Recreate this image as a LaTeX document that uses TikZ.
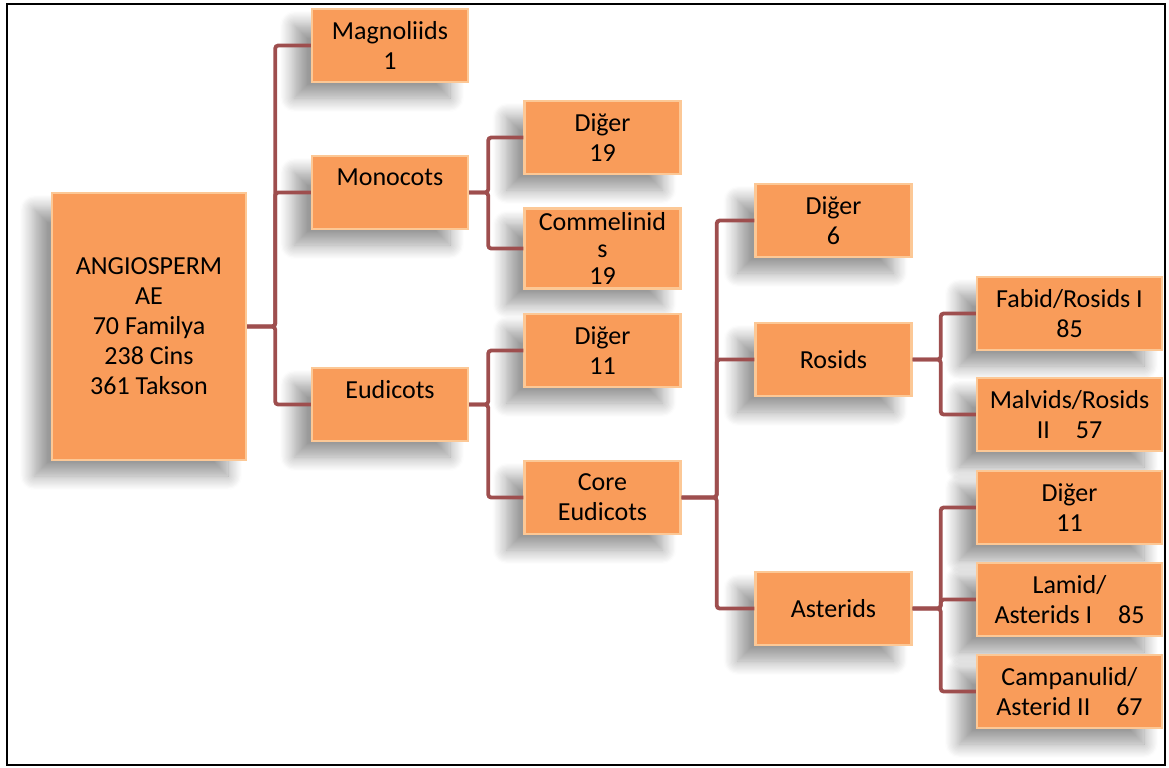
\documentclass[tikz,border=0pt]{standalone}
\usepackage{fontspec}
\setmainfont{Carlito}
\usetikzlibrary{shadows.blur}
\definecolor{boxfill}{RGB}{249,156,90}
\definecolor{boxrim}{RGB}{252,200,150}
\definecolor{linkred}{RGB}{158,78,78}
\begin{document}
\begin{tikzpicture}[x=0.5pt, y=-0.5pt,
    taxon/.style={rectangle, fill=boxfill, draw=boxrim, line width=1.2pt,
        minimum width=78pt, minimum height=36.5pt, inner sep=2pt, align=center,
        font=\fontsize{13}{15}\selectfont,
        blur shadow={shadow xshift=-9pt, shadow yshift=-8pt, shadow blur radius=7pt, shadow blur steps=12, shadow opacity=40}},
    wide/.style={taxon, minimum width=92.5pt},
    link/.style={linkred, line width=1.9pt, rounded corners=1.5pt}]
    % frame
    \useasboundingbox (0,0) rectangle (1169,767);
    \draw[black, line width=1.3pt] (7,4) rectangle (1165,765);
    % taxa
    \node[taxon, minimum width=97pt, minimum height=133.5pt] (root) at (149,326.5)
        {ANGIOSPERM\\AE\\70 Familya\\238 Cins\\361 Takson};
    \node[taxon] (mag) at (390,45.5) {Magnoliids\\1};
    \node[taxon] (mono) at (390,192.5) {Monocots\\~};
    \node[taxon] (eudi) at (390,404.5) {Eudicots\\~};
    \node[taxon] (mdig) at (602.5,137.5) {Diğer\\19};
    \node[taxon, font=\fontsize{13}{13.5}\selectfont] (comm) at (602.5,248.5) {Commelinid\\s\\19};
    \node[taxon] (edig) at (602.5,350.5) {Diğer\\11};
    \node[taxon] (core) at (602.5,497.5) {Core\\Eudicots};
    \node[taxon] (cdig) at (833.5,220.5) {Diğer\\6};
    \node[taxon] (ros) at (833.5,359.5) {Rosids};
    \node[taxon] (ast) at (833.5,608.5) {Asterids};
    \node[wide] (fab) at (1069.5,313.5) {Fabid/Rosids I\\85};
    \node[wide] (mal) at (1069.5,414.5) {Malvids/Rosids\\II\quad 57};
    \node[wide] (adig) at (1069.5,507.5) {Diğer\\11};
    \node[wide] (lam) at (1069.5,599.5) {Lamid/\\Asterids I\quad 85};
    \node[wide] (camp) at (1069.5,691.5) {Campanulid/\\Asterid II\quad 67};
    % links
    \draw[link] (root.east) -- ++(28,0) |- (mag.west);
    \draw[link] (root.east) -- ++(28,0) |- (mono.west);
    \draw[link] (root.east) -- ++(28,0) |- (eudi.west);
    \draw[link] (mono.east) -- ++(19,0) |- (mdig.west);
    \draw[link] (mono.east) -- ++(19,0) |- (comm.west);
    \draw[link] (eudi.east) -- ++(19,0) |- (edig.west);
    \draw[link] (eudi.east) -- ++(19,0) |- (core.west);
    \draw[link] (core.east) -- ++(35,0) |- (cdig.west);
    \draw[link] (core.east) -- ++(35,0) |- (ros.west);
    \draw[link] (core.east) -- ++(35,0) |- (ast.west);
    \draw[link] (ros.east) -- ++(28,0) |- (fab.west);
    \draw[link] (ros.east) -- ++(28,0) |- (mal.west);
    \draw[link] (ast.east) -- ++(28,0) |- (adig.west);
    \draw[link] (ast.east) -- ++(28,0) |- (lam.west);
    \draw[link] (ast.east) -- ++(28,0) |- (camp.west);
\end{tikzpicture}
\end{document}
